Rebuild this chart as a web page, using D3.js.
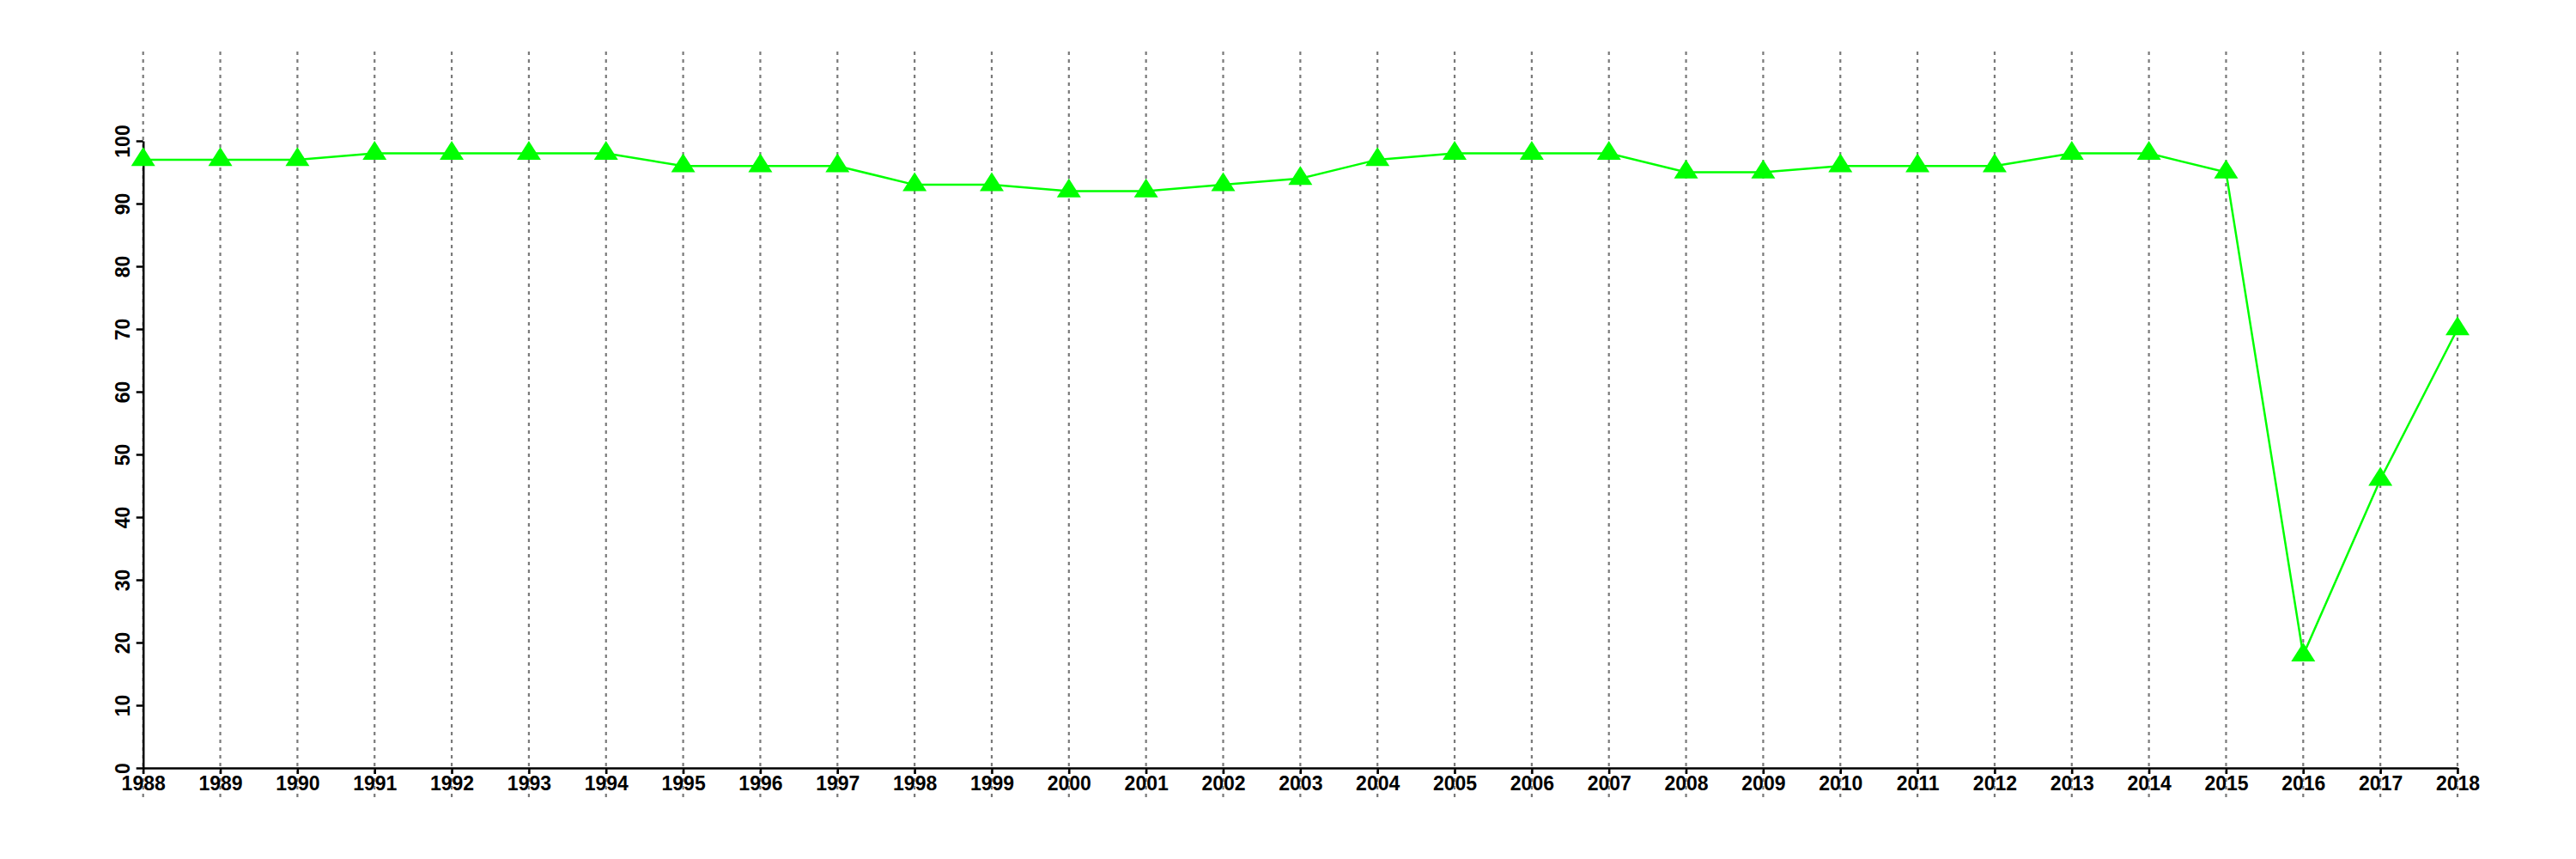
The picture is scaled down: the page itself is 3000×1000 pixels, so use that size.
<!DOCTYPE html>
<html><head><meta charset="utf-8">
<script src="https://cdn.jsdelivr.net/npm/d3@7"></script>
<style>html,body{margin:0;padding:0;background:#fff;}</style>
</head><body>
<svg id="c" width="3000" height="1000"></svg>
<script>
const years = [1988,1989,1990,1991,1992,1993,1994,1995,1996,1997,1998,1999,2000,2001,2002,2003,2004,2005,2006,2007,2008,2009,2010,2011,2012,2013,2014,2015,2016,2017,2018];
const values = [97,97,97,98,98,98,98,96,96,96,93,93,92,92,93,94,97,98,98,98,95,95,96,96,96,98,98,95,18,46,70];
const yTicks = [0,10,20,30,40,50,60,70,80,90,100];

const svg = d3.select("#c");
const x = d3.scaleLinear().domain([1988,2018]).range([166.7,2862]);
const y = d3.scaleLinear().domain([0,100]).range([894,164]);
const font = "'Liberation Sans', Arial, Helvetica, sans-serif";

// vertical dotted grid lines
svg.append("g").selectAll("line").data(years).join("line")
  .attr("x1", d=>x(d)).attr("x2", d=>x(d))
  .attr("y1", 60).attr("y2", 928)
  .attr("stroke", "#7a7a7a").attr("stroke-width", 2.2)
  .attr("stroke-dasharray", "4,5");

// x axis
const xAxis = d3.axisBottom(x).tickValues(years).tickFormat(d3.format("d")).tickSizeInner(7).tickSizeOuter(0).tickPadding(4);
const gx = svg.append("g").attr("transform", "translate(0,894)").call(xAxis);
gx.select(".domain").attr("stroke","#000").attr("stroke-width",2.5);
gx.selectAll(".tick line").attr("stroke","#000").attr("stroke-width",2.5);
gx.selectAll(".tick text").attr("font-family", font).attr("font-weight","bold").attr("font-size",23).attr("fill","#000")
  .attr("dy", null).attr("y", 26);

// y axis
const yAxis = d3.axisLeft(y).tickValues(yTicks).tickSizeInner(8).tickSizeOuter(0).tickPadding(0);
const gy = svg.append("g").attr("transform", "translate(166.7,0)").call(yAxis);
gy.select(".domain").attr("stroke","#000").attr("stroke-width",2.5);
gy.selectAll(".tick line").attr("stroke","#000").attr("stroke-width",2.5);
gy.selectAll(".tick text").attr("font-family", font).attr("font-weight","bold").attr("font-size",23).attr("fill","#000")
  .attr("x", null).attr("dy", null).attr("text-anchor","middle")
  .attr("transform","translate(-16,0) rotate(-90)");

// line
const line = d3.line().x((d,i)=>x(years[i])).y(d=>y(d));
svg.append("path").datum(values).attr("d", line)
  .attr("fill","none").attr("stroke","#00ff00").attr("stroke-width",2.5);

// triangles (R pch 17 style)
const triType = { draw(ctx, size) {
  const w = 28, h = 22;
  ctx.moveTo(0, -h*2/3);
  ctx.lineTo(w/2, h/3);
  ctx.lineTo(-w/2, h/3);
  ctx.closePath();
}};
const tri = d3.symbol().type(triType).size(1);
svg.append("g").selectAll("path").data(values).join("path")
  .attr("d", tri)
  .attr("transform", (d,i)=>`translate(${x(years[i])},${y(d)})`)
  .attr("fill","#00ff00");
</script>
</body></html>
